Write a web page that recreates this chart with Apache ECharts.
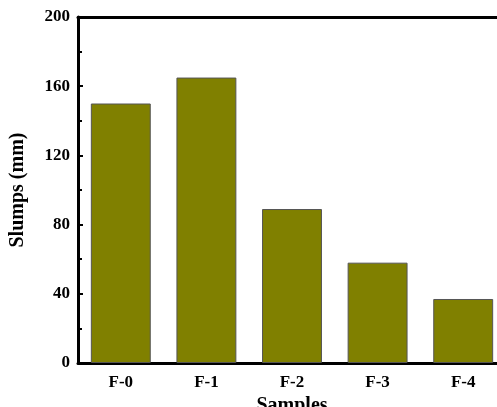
<!DOCTYPE html>
<html>
<head>
<meta charset="utf-8">
<script src="https://cdn.jsdelivr.net/npm/echarts@6/dist/echarts.min.js"></script>
<style>
  html, body { margin: 0; padding: 0; background: #fff; }
  #chart { width: 497px; height: 407px; }
</style>
</head>
<body>
<div id="chart"></div>
<script>
const samples = ["F-0", "F-1", "F-2", "F-3", "F-4"];
const slumps = [150, 165, 89, 58, 37];
const yTicks = [0, 40, 80, 120, 160, 200];

const font = "'Liberation Serif', 'Times New Roman', serif";
const chart = echarts.init(document.getElementById("chart"));

chart.setOption({
  animation: false,
  grid: { left: 78, top: 17, width: 428, height: 346, outerBoundsMode: "none", containLabel: false },
  xAxis: [
    {
      type: "category",
      data: samples,
      name: "Samples",
      nameLocation: "middle",
      nameGap: 30,
      nameTextStyle: { fontFamily: font, fontWeight: "bold", fontSize: 20, color: "#000" },
      axisLine: { lineStyle: { color: "#000", width: 3 } },
      axisTick: { show: false },
      axisLabel: { fontFamily: font, fontWeight: "bold", fontSize: 17, color: "#000", margin: 11 }
    },
    {
      // top frame line
      type: "category",
      data: samples,
      position: "top",
      axisLine: { lineStyle: { color: "#000", width: 3 } },
      axisTick: { show: false },
      axisLabel: { show: false }
    }
  ],
  yAxis: {
    type: "value",
    min: yTicks[0],
    max: yTicks[yTicks.length - 1],
    interval: 40,
    name: "Slumps (mm)",
    nameLocation: "middle",
    nameGap: 50,
    nameTextStyle: { fontFamily: font, fontWeight: "bold", fontSize: 20, color: "#000" },
    axisLine: { show: true, lineStyle: { color: "#000", width: 3 } },
    axisTick: { show: true, inside: true, length: 5, lineStyle: { color: "#000", width: 2 } },
    minorTick: { show: true, splitNumber: 2, length: 4, lineStyle: { color: "#000", width: 2 } },
    splitLine: { show: false },
    axisLabel: { fontFamily: font, fontWeight: "bold", fontSize: 17, color: "#000", margin: 8 }
  },
  series: [
    {
      type: "bar",
      data: slumps,
      barCategoryGap: "30%",
      itemStyle: { color: "#808000", borderColor: "#555", borderWidth: 1 }
    }
  ]
});
</script>
</body>
</html>
